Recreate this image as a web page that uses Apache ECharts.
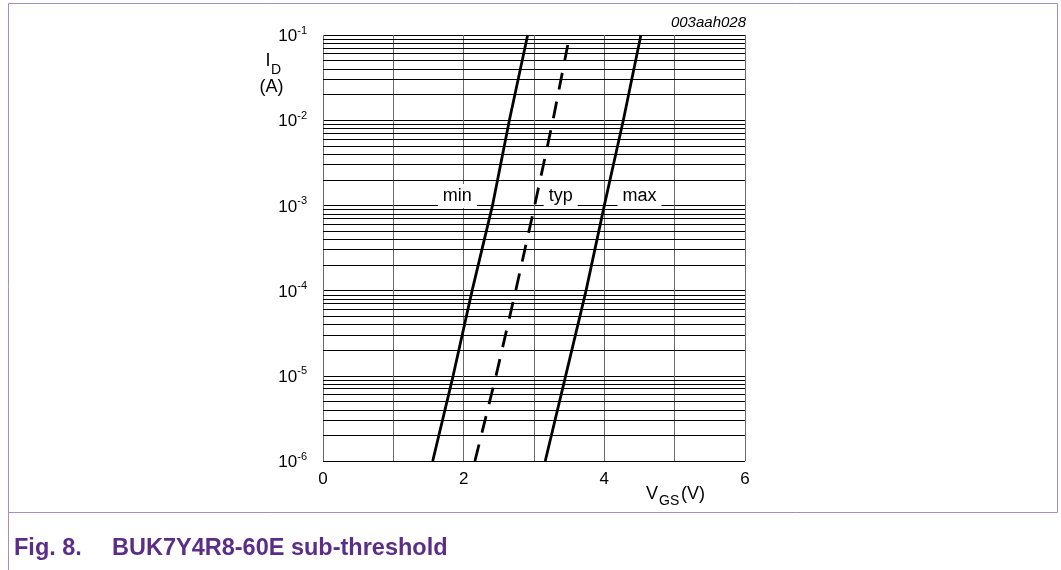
<!DOCTYPE html>
<html><head><meta charset="utf-8">
<script src="https://cdn.jsdelivr.net/npm/echarts@6/dist/echarts.min.js"></script>
<style>html,body{margin:0;padding:0;background:#fff}#c{width:1061px;height:570px}</style>
</head><body><div id="c"></div>
<script>
// ---- data ----
const xTicks = [0, 1, 2, 3, 4, 5, 6];
const xTickLabels = ['0', '', '2', '', '4', '', '6'];
const yDecades = [1e-6, 1e-5, 1e-4, 1e-3, 1e-2, 1e-1];
const yTickExponents = ['-6', '-5', '-4', '-3', '-2', '-1'];
const minorFactors = [2, 3, 4, 5, 6, 7, 8, 9];

const minV = [1.56, 1.85, 2.12, 2.41, 2.65, 2.91];
const minI = [1e-6, 1e-5, 1e-4, 1e-3, 1e-2, 1e-1];
const typV = [2.16, 2.46, 2.74, 3.01, 3.27, 3.48];
const typI = [1e-6, 1e-5, 1e-4, 1e-3, 1e-2, 0.0763];
const maxV = [3.16, 3.45, 3.74, 4.00, 4.27, 4.52];
const maxI = [1e-6, 1e-5, 1e-4, 1e-3, 1e-2, 1e-1];

const curveNames = ['min', 'typ', 'max'];
const labelV = [1.91, 3.38, 4.50];
const labelI = [1.29e-3, 1.29e-3, 1.29e-3];

// ---- build (y axis works in log10(I) space) ----
const FONT = 'Liberation Sans, Arial, sans-serif';
const lg = v => Math.log10(v);
const zip = (a, b) => a.map((v, i) => [v, lg(b[i])]);
const minorVals = [];
yDecades.slice(0, yDecades.length - 1).forEach(d => minorFactors.forEach(f => minorVals.push(lg(d * f))));

function curve(name, V, I, idx, dashed) {
  return {
    name: name, type: 'line', data: zip(V, I), symbol: 'none', z: 3,
    lineStyle: { color: '#000', width: 2.8, type: dashed ? [17, 12.3] : 'solid', cap: 'butt' },
    emphasis: { disabled: true },
    markPoint: {
      symbol: 'rect', symbolSize: 0, silent: true, animation: false,
      data: [{ coord: [labelV[idx], lg(labelI[idx])], value: name }],
      label: {
        show: true, position: 'inside', formatter: name, color: '#000',
        fontSize: 18, fontFamily: FONT, backgroundColor: '#fff', padding: [3, 5], lineHeight: 18
      }
    }
  };
}

const chart = echarts.init(document.getElementById('c'));
chart.setOption({
  animation: false,
  backgroundColor: '#fff',
  grid: { left: 323, right: 316, top: 35, bottom: 109, containLabel: false },
  xAxis: {
    type: 'value', min: 0, max: 6, interval: 1,
    axisLine: { show: false }, axisTick: { show: false },
    splitLine: { show: true, lineStyle: { color: '#6a6a6a', width: 1 } },
    axisLabel: {
      fontSize: 17, color: '#000', fontFamily: FONT, margin: 10,
      formatter: v => { const i = xTicks.indexOf(v); return i >= 0 ? xTickLabels[i] : ''; }
    }
  },
  yAxis: {
    type: 'value', min: lg(yDecades[0]), max: lg(yDecades[yDecades.length - 1]), interval: 1,
    axisLine: { show: false }, axisTick: { show: false },
    splitLine: { show: true, lineStyle: { color: '#000', width: 1 } },
    axisLabel: {
      margin: 16, color: '#000', fontFamily: FONT,
      formatter: v => {
        const i = yDecades.findIndex(d => Math.abs(lg(d) - v) < 1e-6);
        return i >= 0 ? '{b|10}{s|' + yTickExponents[i] + '}' : '';
      },
      rich: {
        b: { fontSize: 17, lineHeight: 20, fontFamily: FONT, color: '#000', verticalAlign: 'bottom' },
        s: { fontSize: 11, lineHeight: 12, fontFamily: FONT, color: '#000', verticalAlign: 'top' }
      }
    }
  },
  series: [
    {
      type: 'line', data: [], z: 1, silent: true,
      markLine: {
        silent: true, symbol: ['none', 'none'], animation: false,
        label: { show: false },
        lineStyle: { color: '#000', width: 1, type: 'solid' },
        emphasis: { disabled: true },
        data: minorVals.map(v => ({ yAxis: v }))
      }
    },
    curve(curveNames[0], minV, minI, 0, false),
    curve(curveNames[1], typV, typI, 1, true),
    curve(curveNames[2], maxV, maxI, 2, false)
  ],
  graphic: [
    { type: 'line', shape: { x1: 8.5, y1: 3.5, x2: 1057.5, y2: 3.5 }, style: { stroke: '#a48fc2', lineWidth: 1 } },
    { type: 'line', shape: { x1: 1057.5, y1: 3.5, x2: 1057.5, y2: 512.5 }, style: { stroke: '#a48fc2', lineWidth: 1 } },
    { type: 'line', shape: { x1: 8.5, y1: 512.5, x2: 1057.5, y2: 512.5 }, style: { stroke: '#a48fc2', lineWidth: 1 } },
    { type: 'line', shape: { x1: 8.5, y1: 3.5, x2: 8.5, y2: 570 }, style: { stroke: '#a48fc2', lineWidth: 1 } },
    { type: 'text', x: 746, y: 23, style: { text: '003aah028', font: 'italic 15px ' + FONT, fill: '#000', textAlign: 'right', textVerticalAlign: 'middle' } },
    { type: 'text', x: 268, y: 61.5, style: { text: 'I', font: '18px ' + FONT, fill: '#000', textAlign: 'center', textVerticalAlign: 'middle' } },
    { type: 'text', x: 271, y: 70, style: { text: 'D', font: '14px ' + FONT, fill: '#000', textAlign: 'left', textVerticalAlign: 'middle' } },
    { type: 'text', x: 271.5, y: 87, style: { text: '(A)', font: '18px ' + FONT, fill: '#000', textAlign: 'center', textVerticalAlign: 'middle' } },
    { type: 'text', x: 646, y: 494, style: { text: 'V', font: '18px ' + FONT, fill: '#000', textAlign: 'left', textVerticalAlign: 'middle' } },
    { type: 'text', x: 659, y: 501, style: { text: 'GS', font: '14px ' + FONT, fill: '#000', textAlign: 'left', textVerticalAlign: 'middle' } },
    { type: 'text', x: 681, y: 494, style: { text: '(V)', font: '18px ' + FONT, fill: '#000', textAlign: 'left', textVerticalAlign: 'middle' } },
    { type: 'text', x: 14, y: 549, style: { text: 'Fig. 8.', font: 'bold 23.5px ' + FONT, fill: '#5b2d86', textAlign: 'left', textVerticalAlign: 'middle' } },
    { type: 'text', x: 112, y: 549, style: { text: 'BUK7Y4R8-60E sub-threshold', font: 'bold 23.5px ' + FONT, fill: '#5b2d86', textAlign: 'left', textVerticalAlign: 'middle' } }
  ]
});
</script></body></html>
